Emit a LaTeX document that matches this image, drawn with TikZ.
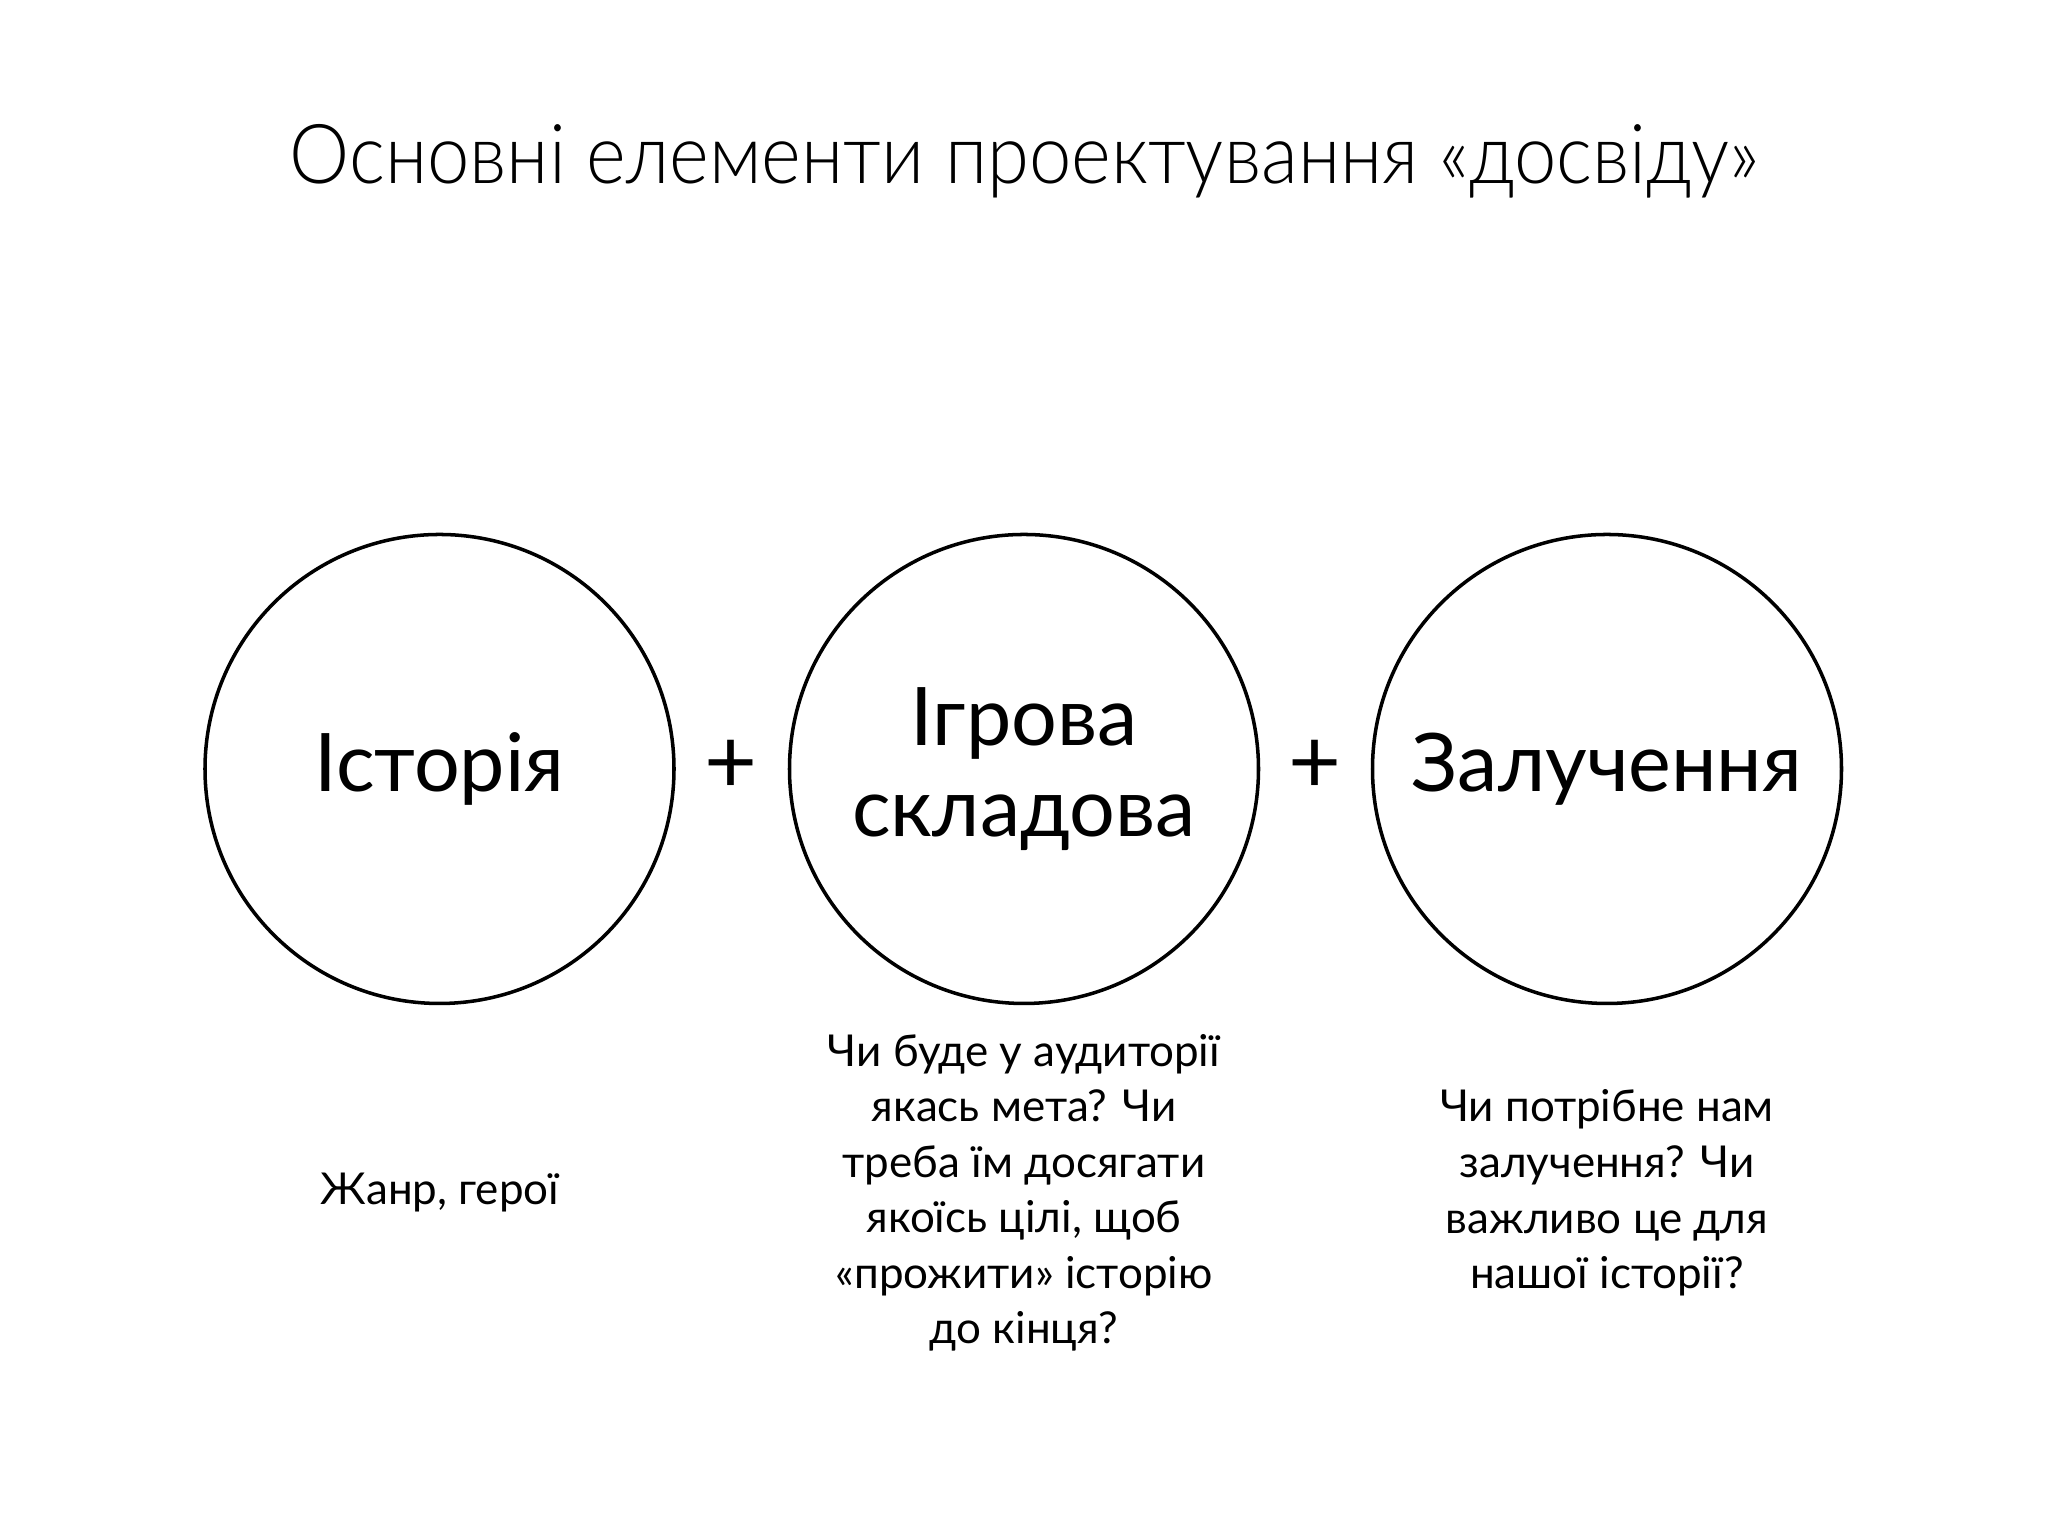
\documentclass[tikz,border=0pt]{standalone}
\usepackage{fontspec}
\setmainfont{Lato}
\IfFontExistsTF{Lato Light}{\newfontfamily\titlefont[FakeStretch=0.92]{Lato Light}}{\newfontfamily\titlefont[FakeStretch=0.92]{Lato}}

\tikzset{
  elem_circle/.style={circle,minimum size=4.69cm,inner sep=0pt,line width=1pt,draw},
  elem_label/.style={align=center,font=\fontsize{23}{26}\selectfont},
  plus_sign/.style={font=\fontsize{26}{26}\selectfont},
  note_text/.style={align=center,font=\fontsize{12.5}{15.8}\selectfont},
}

\begin{document}
\begin{tikzpicture}[
  every node/.style={color=black},
  ]

  \useasboundingbox (0,0) rectangle (20.48,15.36);

  \node[anchor=base,font=\titlefont\fontsize{23.5}{28}\selectfont] (title) at (10.24,13.52)
       {Основні елементи проектування «досвіду»};

  \node[elem_circle] (story) at (4.395,7.67) {};
  \node[elem_circle] (game)  at (10.24,7.67) {};
  \node[elem_circle] (engage) at (16.07,7.67) {};

  \node[elem_label] (story_lbl)  at (story)  {Історія};
  \node[elem_label] (game_lbl)   at (game)   {Ігрова\\складова};
  \node[elem_label] (engage_lbl) at (engage) {Залучення};

  \node[plus_sign] (plus_a) at (7.31,7.69) {+};
  \node[plus_sign] (plus_b) at (13.15,7.69) {+};

  \node[note_text] (story_note) at (4.40,3.43) {Жанр, герої};
  \node[note_text] (game_note) at (10.24,3.43)
       {Чи буде у аудиторії\\якась мета? Чи\\треба їм досягати\\якоїсь цілі, щоб\\«прожити» історію\\до кінця?};
  \node[note_text] (engage_note) at (16.07,3.43)
       {Чи потрібне нам\\залучення? Чи\\важливо це для\\нашої історії?};

\end{tikzpicture}
\end{document}
